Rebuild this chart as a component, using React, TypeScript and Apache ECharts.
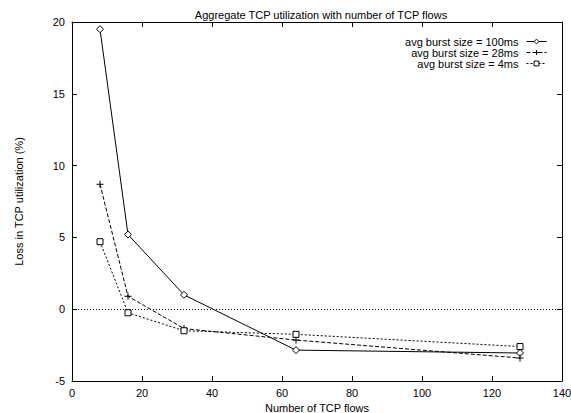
import React, { useEffect, useRef } from "react";
import * as echarts from "echarts";

const flows = [8, 16, 32, 64, 128];
const burst100 = [19.5, 5.2, 1.0, -2.85, -3.05];
const burst28 = [8.7, 0.9, -1.35, -2.15, -3.4];
const burst4 = [4.7, -0.25, -1.5, -1.75, -2.6];
const seriesNames = ["avg burst size = 100ms", "avg burst size = 28ms", "avg burst size = 4ms"];
const xTicks = { min: 0, max: 140, interval: 20 };
const yTicks = { min: -5, max: 20, interval: 5 };

const FONT = "'Liberation Sans', Arial, Helvetica, sans-serif";
const FS = 11;
const PLUS = "path://M0,5L10,5M5,0L5,10";

export default function App() {
  const ref = useRef<HTMLDivElement>(null);
  useEffect(() => {
    if (!ref.current) return;
    const chart = echarts.init(ref.current, null, { renderer: "svg" });
    const toPts = (ys: number[]) => flows.map((x, i) => [x, ys[i]]);
    const axisCommon = {
      axisLine: { show: true, onZero: false, lineStyle: { color: "#000", width: 1 } },
      axisTick: { show: true, inside: true, length: 5, lineStyle: { color: "#000" } },
      splitLine: { show: false },
    };
    const legendBase = (name: string, top: number) => ({
      data: [name],
      right: 19,
      top,
      align: "right",
      orient: "vertical",
      itemWidth: 20,
      itemHeight: 6,
      itemStyle: { color: "#fff", borderColor: "#000", borderWidth: 1 },
      lineStyle: { width: 1 },
      textStyle: { fontFamily: FONT, fontSize: FS, color: "#000", padding: [0, 3, 0, 0] },
      selectedMode: false,
    });
    chart.setOption({
      animation: false,
      title: {
        text: "Aggregate TCP utilization with number of TCP flows",
        left: 316,
        textAlign: "center",
        top: 4,
        textStyle: { fontFamily: FONT, fontSize: FS, fontWeight: "normal", color: "#000" },
      },
      legend: [legendBase(seriesNames[0], 31), legendBase(seriesNames[1], 42), legendBase(seriesNames[2], 53)],
      grid: { left: 72, right: 9, top: 22, bottom: 32, containLabel: false, outerBoundsMode: "none" },
      xAxis: [
        {
          type: "value",
          ...xTicks,
          position: "bottom",
          ...axisCommon,
          axisLabel: { color: "#000", fontFamily: FONT, fontSize: FS, margin: 6 },
          name: "Number of TCP flows",
          nameLocation: "middle",
          nameGap: 17,
          nameTextStyle: { color: "#000", fontFamily: FONT, fontSize: FS },
        },
        {
          type: "value",
          ...xTicks,
          position: "top",
          ...axisCommon,
          axisLabel: { show: false },
        },
      ],
      yAxis: [
        {
          type: "value",
          ...yTicks,
          position: "left",
          ...axisCommon,
          axisLabel: { color: "#000", fontFamily: FONT, fontSize: FS, margin: 7 },
          name: "Loss in TCP utilization (%)",
          nameLocation: "middle",
          nameGap: 48,
          nameTextStyle: { color: "#000", fontFamily: FONT, fontSize: FS },
        },
        {
          type: "value",
          ...yTicks,
          position: "right",
          ...axisCommon,
          axisLabel: { show: false },
        },
      ],
      series: [
        {
          name: seriesNames[0],
          type: "line",
          data: toPts(burst100),
          symbol: "diamond",
          symbolSize: 7,
          lineStyle: { color: "#000", width: 1, type: "solid" },
          itemStyle: { color: "#fff", borderColor: "#000", borderWidth: 1 },
          markLine: {
            silent: true,
            symbol: "none",
            label: { show: false },
            lineStyle: { color: "#000", width: 1, type: [1, 2] },
            data: [{ yAxis: 0 }],
          },
        },
        {
          name: seriesNames[1],
          type: "line",
          data: toPts(burst28),
          symbol: PLUS,
          symbolSize: 7,
          lineStyle: { color: "#000", width: 1, type: [4, 2] },
          itemStyle: { color: "#fff", borderColor: "#000", borderWidth: 1 },
        },
        {
          name: seriesNames[2],
          type: "line",
          data: toPts(burst4),
          symbol: "rect",
          symbolSize: 6,
          lineStyle: { color: "#000", width: 1, type: [2, 2] },
          itemStyle: { color: "#fff", borderColor: "#000", borderWidth: 1 },
        },
      ],
    });
    return () => chart.dispose();
  }, []);
  return <div ref={ref} style={{ width: 571, height: 413, position: "absolute", left: 0, top: 0, background: "#fff" }} />;
}
